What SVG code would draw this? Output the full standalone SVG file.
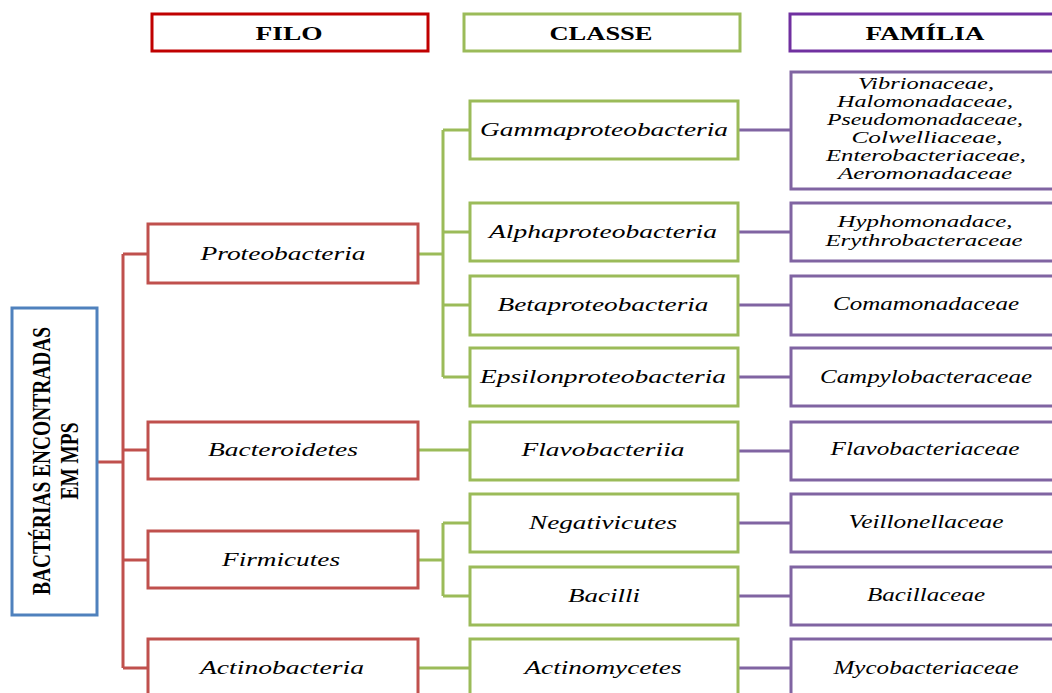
<svg xmlns="http://www.w3.org/2000/svg" width="1052" height="693" viewBox="0 0 1052 693">
<style>
rect{fill:#fff;stroke-width:3}
.hr{stroke:#C00000}.hg{stroke:#9BBB59}.hp{stroke:#7030A0}
.r{stroke:#C0504D}.g{stroke:#9BBB59}.p{stroke:#8064A2}.b{stroke:#4F81BD}
text{font-family:"Liberation Serif","Times New Roman",serif;fill:#000;text-anchor:middle}
.h{font-weight:bold;font-size:19px}
.t{font-style:italic;font-size:19px}
.s{font-style:italic;font-size:17px}
.v{font-weight:bold;font-size:26px}
.cr{stroke:#C0504D;stroke-width:3;fill:none}
.cg{stroke:#9BBB59;stroke-width:3;fill:none}
.cp{stroke:#8064A2;stroke-width:3;fill:none}
</style>
<rect width="1052" height="693" style="fill:#fff;stroke:none"/>
<g id="connectors">
<path class="cr" d="M97,462H123M123,254V668M123,254H148M123,450H148M123,560H148M123,668H148"/>
<path class="cg" d="M418,254H443M443,130V377M443,130H470M443,232H470M443,305H470M443,377H470M418,450H470M418,560H443M443,523V596M443,523H470M443,596H470M418,668H470"/>
<path class="cp" d="M738,130H791M738,232H791M738,305H791M738,377H791M738,451H791M738,523H791M738,596H791M738,668H791"/>
</g>
<g id="h-filo"><rect class="hr" x="152" y="14" width="276" height="37"/><text class="h" x="289" y="40" textLength="67" lengthAdjust="spacingAndGlyphs">FILO</text></g>
<g id="h-classe"><rect class="hg" x="464" y="14" width="276" height="37"/><text class="h" x="601" y="40" textLength="103" lengthAdjust="spacingAndGlyphs">CLASSE</text></g>
<g id="h-familia"><rect class="hp" x="790" y="14" width="280" height="37"/><text class="h" x="925" y="40" textLength="119" lengthAdjust="spacingAndGlyphs">FAMÍLIA</text></g>
<g id="root"><rect class="b" x="12" y="308" width="85" height="307"/>
<text class="v" transform="translate(50,461) rotate(-90)" textLength="268" lengthAdjust="spacingAndGlyphs">BACTÉRIAS ENCONTRADAS</text>
<text class="v" transform="translate(78,461) rotate(-90)" textLength="77" lengthAdjust="spacingAndGlyphs">EM MPS</text></g>
<g id="proteobacteria"><rect class="r" x="148" y="224" width="270" height="59"/><text class="t" x="283" y="260" textLength="165" lengthAdjust="spacingAndGlyphs">Proteobacteria</text></g>
<g id="bacteroidetes"><rect class="r" x="148" y="422" width="270" height="57"/><text class="t" x="283" y="456" textLength="150" lengthAdjust="spacingAndGlyphs">Bacteroidetes</text></g>
<g id="firmicutes"><rect class="r" x="148" y="531" width="270" height="57"/><text class="t" x="281" y="566" textLength="118" lengthAdjust="spacingAndGlyphs">Firmicutes</text></g>
<g id="actinobacteria"><rect class="r" x="148" y="639" width="270" height="60"/><text class="t" x="282" y="674" textLength="164" lengthAdjust="spacingAndGlyphs">Actinobacteria</text></g>
<g id="gammaproteobacteria"><rect class="g" x="470" y="101" width="268" height="58"/><text class="t" x="604" y="136" textLength="248" lengthAdjust="spacingAndGlyphs">Gammaproteobacteria</text></g>
<g id="alphaproteobacteria"><rect class="g" x="470" y="203" width="268" height="58"/><text class="t" x="603" y="238" textLength="228" lengthAdjust="spacingAndGlyphs">Alphaproteobacteria</text></g>
<g id="betaproteobacteria"><rect class="g" x="470" y="276" width="268" height="59"/><text class="t" x="603" y="311" textLength="211" lengthAdjust="spacingAndGlyphs">Betaproteobacteria</text></g>
<g id="epsilonproteobacteria"><rect class="g" x="470" y="348" width="268" height="58"/><text class="t" x="603" y="383" textLength="246" lengthAdjust="spacingAndGlyphs">Epsilonproteobacteria</text></g>
<g id="flavobacteriia"><rect class="g" x="470" y="422" width="268" height="58"/><text class="t" x="603" y="456" textLength="163" lengthAdjust="spacingAndGlyphs">Flavobacteriia</text></g>
<g id="negativicutes"><rect class="g" x="470" y="494" width="268" height="58"/><text class="t" x="603" y="529" textLength="148" lengthAdjust="spacingAndGlyphs">Negativicutes</text></g>
<g id="bacilli"><rect class="g" x="470" y="567" width="268" height="58"/><text class="t" x="604" y="602" textLength="72" lengthAdjust="spacingAndGlyphs">Bacilli</text></g>
<g id="actinomycetes"><rect class="g" x="470" y="639" width="268" height="60"/><text class="t" x="603" y="674" textLength="157" lengthAdjust="spacingAndGlyphs">Actinomycetes</text></g>
<g id="fam-gamma"><rect class="p" x="791" y="72" width="270" height="117"/>
<text class="s" x="926" y="89" textLength="136" lengthAdjust="spacingAndGlyphs">Vibrionaceae,</text>
<text class="s" x="925" y="107" textLength="176" lengthAdjust="spacingAndGlyphs">Halomonadaceae,</text>
<text class="s" x="925" y="125" textLength="196" lengthAdjust="spacingAndGlyphs">Pseudomonadaceae,</text>
<text class="s" x="927" y="143" textLength="151" lengthAdjust="spacingAndGlyphs">Colwelliaceae,</text>
<text class="s" x="926" y="161" textLength="200" lengthAdjust="spacingAndGlyphs">Enterobacteriaceae,</text>
<text class="s" x="925" y="179" textLength="174" lengthAdjust="spacingAndGlyphs">Aeromonadaceae</text></g>
<g id="fam-alpha"><rect class="p" x="791" y="203" width="270" height="58"/>
<text class="s" x="925" y="227" textLength="175" lengthAdjust="spacingAndGlyphs">Hyphomonadace,</text>
<text class="s" x="924" y="246" textLength="197" lengthAdjust="spacingAndGlyphs">Erythrobacteraceae</text></g>
<g id="fam-beta"><rect class="p" x="791" y="276" width="270" height="59"/><text class="t" x="926" y="310" textLength="186" lengthAdjust="spacingAndGlyphs">Comamonadaceae</text></g>
<g id="fam-epsilon"><rect class="p" x="791" y="348" width="270" height="58"/><text class="t" x="926" y="383" textLength="212" lengthAdjust="spacingAndGlyphs">Campylobacteraceae</text></g>
<g id="fam-flavo"><rect class="p" x="791" y="422" width="270" height="58"/><text class="t" x="925" y="455" textLength="189" lengthAdjust="spacingAndGlyphs">Flavobacteriaceae</text></g>
<g id="fam-veill"><rect class="p" x="791" y="494" width="270" height="58"/><text class="t" x="926" y="528" textLength="155" lengthAdjust="spacingAndGlyphs">Veillonellaceae</text></g>
<g id="fam-bacill"><rect class="p" x="791" y="567" width="270" height="58"/><text class="t" x="926" y="601" textLength="118" lengthAdjust="spacingAndGlyphs">Bacillaceae</text></g>
<g id="fam-myco"><rect class="p" x="791" y="639" width="270" height="60"/><text class="t" x="926" y="674" textLength="185" lengthAdjust="spacingAndGlyphs">Mycobacteriaceae</text></g>
</svg>
